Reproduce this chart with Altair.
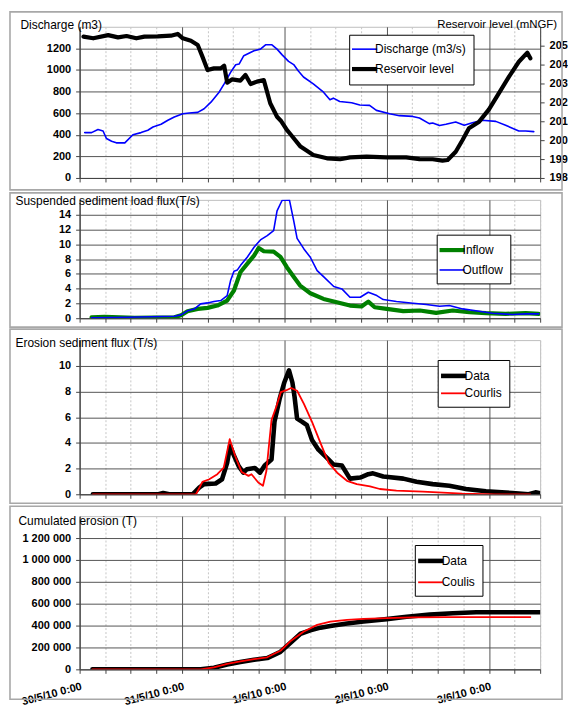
import altair as alt
import pandas as pd

FONT = "Liberation Sans"

# ---------------- x axis (hours since 30/5/10 0:00) ----------------
X_DOMAIN = [0, 108]
X_TICK_HOURS = list(range(0, 109, 6))
X_DAY_HOURS = [0, 24, 48, 72, 96]
X_DAY_LABELS = ["30/5/10 0:00", "31/5/10 0:00", "1/6/10 0:00", "2/6/10 0:00", "3/6/10 0:00"]

# ---------------- panel 1 : discharge / reservoir level ----------------
P1_SERIES = ["Discharge (m3/s)", "Reservoir level"]
DISCHARGE_H = [1.2, 2.8, 4.3, 5.5, 6.3, 7.5, 8.6, 10.6, 12.5, 14.4, 16, 17.2, 19.1, 20.7, 22.2,
               24.2, 25.7, 27.7, 29.2, 30.8, 32.7, 33.9, 35.4, 36.6, 37.4, 38.5, 40.9, 42.4, 43.6,
               45.1, 46.3, 47.5, 49, 50.2, 51.3, 52.5, 54.8, 57.2, 58.7, 59.5, 61, 63.8, 65.7, 68,
               69.6, 72.7, 75, 78.1, 79.7, 82, 82.8, 84.4, 85.9, 88.2, 90.2, 92.1, 94.4, 97.6,
               99.9, 103, 104.6, 106.5]
DISCHARGE_V = [420, 420, 448, 435, 365, 340, 325, 325, 400, 420, 442, 472, 497, 534, 564,
               595, 601, 607, 641, 702, 794, 871, 978, 1049, 1055, 1132, 1178, 1193, 1233,
               1233, 1193, 1140, 1080, 1050, 990, 935, 871, 794, 724, 739, 708, 696, 675, 672,
               626, 595, 577, 570, 555, 503, 509, 485, 497, 518, 488, 512, 534, 524,
               488, 435, 435, 429]
LEVEL_H = [0.9, 3.2, 6.7, 9, 11, 13.3, 15.2, 18.3, 21.4, 23, 24.2, 26.1, 27.7, 28.8, 30, 31.5,
           33.1, 33.9, 34.6, 35.8, 37.7, 38.9, 40.1, 41.6, 43.2, 44.7, 46.3, 47.3, 48.6, 49.5,
           51.8, 54.8, 58, 61.1, 63.4, 67.3, 72, 76.6, 79.7, 82.8, 85.1, 86.3, 88.2, 89.8, 91.3,
           93.7, 96, 98.3, 100.7, 103, 105, 105.7]
LEVEL_V = [205.48, 205.39, 205.56, 205.44, 205.51, 205.39, 205.48, 205.49, 205.53, 205.62,
           205.39, 205.26, 205.04, 204.42, 203.71, 203.8, 203.8, 203.94, 203.04, 203.22, 203.15,
           203.45, 202.97, 203.1, 203.18, 201.95, 201.24, 201.0, 200.54, 200.3, 199.66, 199.22,
           199.04, 198.99, 199.09, 199.13, 199.09, 199.09, 199.0, 198.99, 198.92, 198.95, 199.39,
           200.01, 200.63, 200.98, 201.63, 202.48, 203.36, 204.15, 204.63, 204.33]

# ---------------- panel 2 : suspended sediment load flux ----------------
P2_SERIES = ["Inflow", "Outflow"]
INFLOW_H = [2.8, 5.9, 12.9, 22.2, 23.8, 25.3, 27.7, 30, 32.3, 34.6, 36.2, 37.7, 39.3, 40.9, 42,
            43.2, 45.5, 47.1, 48.6, 50.2, 51.7, 54.1, 57.2, 60.3, 63.4, 66.1, 67.7, 69.2, 72,
            75.9, 79.8, 83.6, 87.5, 91.4, 95.3, 99.9, 104.6, 107.7]
INFLOW_V = [0.13, 0.2, 0.05, 0.13, 0.4, 0.95, 1.26, 1.4, 1.71, 2.39, 3.74, 6.21, 7.34, 8.46, 9.5,
            9.05, 9.0, 8.3, 6.9, 5.6, 4.41, 3.38, 2.61, 2.16, 1.71, 1.58, 2.25, 1.49, 1.26,
            0.95, 1.04, 0.72, 1.04, 0.81, 0.68, 0.59, 0.68, 0.59]
OUTFLOW_H = [2.8, 11.3, 22.2, 23.8, 25.3, 26.9, 28.4, 30, 31.5, 33.1, 34.6, 35.4, 36.2, 37, 37.7,
             39.3, 40.9, 42.4, 44, 45.5, 46.3, 47.5, 49.2, 50.2, 51, 52.6, 54.1, 55.7, 57.2,
             59.6, 61.5, 63.4, 65.8, 67.7, 69.7, 71.2, 74.3, 78.2, 81.3, 84.4, 86.7, 89.8,
             93.7, 96.8, 101.5, 104.6, 107.7]
OUTFLOW_V = [0.05, 0.13, 0.27, 0.45, 1.0, 1.26, 1.94, 2.07, 2.25, 2.39, 3.06, 5.09, 6.35, 6.53,
             7.11, 8.24, 9.59, 10.58, 11.17, 11.84, 14.5, 15.95, 16.0, 13.2, 10.8, 9.37, 8.24,
             6.44, 5.63, 4.28, 3.96, 2.84, 2.84, 3.51, 3.06, 2.52, 2.25, 2.03, 1.85, 1.62, 1.71,
             1.26, 0.95, 0.68, 0.5, 0.59, 0.59]

# ---------------- panel 3 : erosion sediment flux ----------------
P3_SERIES = ["Data", "Courlis"]
EROS_DATA_H = [3.1, 18.5, 19.6, 21, 26.5, 28.1, 29.2, 31.9, 33.4, 34.6, 35.3, 36.1, 37.3, 38.4,
               39.2, 41.1, 42.3, 43.4, 45, 45.7, 46.9, 48, 49.1, 49.9, 50.4, 51, 52.2, 53.3,
               54.5, 56, 58, 59.5, 61.5, 63.4, 65.8, 67.7, 68.8, 71.2, 75.9, 79, 82.8, 86.7,
               90.6, 95.3, 101.5, 105.3, 106.9, 108]
EROS_DATA_V = [0, 0, 0.1, 0, 0, 0.54, 0.79, 0.84, 1.17, 2.45, 3.78, 3.09, 2.19, 1.68, 1.94,
               2.04, 1.68, 2.24, 2.7, 5.64, 7.42, 8.7, 9.64, 8.7, 7.6, 5.89, 5.64, 5.38, 4.23,
               3.47, 2.83, 2.32, 2.24, 1.22, 1.3, 1.56, 1.63, 1.38, 1.22, 0.97, 0.79, 0.66, 0.41,
               0.23, 0.1, 0, 0.15, 0.08]
EROS_COURLIS_H = [3.1, 27.3, 28.8, 30.4, 32.3, 33.8, 35.2, 36.5, 38, 39.6, 40.3, 41.9, 43, 43.8,
                  45, 46.1, 47.2, 48.5, 49.6, 51, 52.6, 54.5, 56.5, 58.4, 60.4, 62.7, 65, 68.1,
                  70.4, 74.3, 80.5, 89.8, 97.6, 105.7]
EROS_COURLIS_V = [0, 0, 0.97, 1.17, 1.56, 2.07, 4.29, 2.96, 1.73, 1.43, 1.56, 0.92, 0.66, 1.81,
                  5.77, 6.79, 7.95, 8.1, 8.27, 8.06, 7.04, 5.64, 3.98, 2.45, 1.68, 1.05, 0.79,
                  0.61, 0.41, 0.28, 0.2, 0.05, 0, 0]

# ---------------- panel 4 : cumulated erosion ----------------
P4_SERIES = ["Data", "Coulis"]
CUM_DATA_H = [3, 28.4, 31.5, 34.6, 37.7, 40.9, 44, 45.5, 47.1, 49.4, 51.8, 54.1, 56.5, 58.8,
              62.7, 66.6, 72, 76.7, 82.1, 87.5, 93, 97.6, 108]
CUM_DATA_V = [0, 0, 15000, 45000, 67000, 88000, 103000, 130000, 160000, 240000, 325000, 356000,
              381000, 397000, 419000, 437000, 459000, 481000, 500000, 512000, 522000, 522000,
              522000]
CUM_COURLIS_H = [3, 28.4, 31.5, 34.6, 37.7, 40.9, 44, 45.5, 47.1, 49.4, 52.5, 55.7, 58.8, 62.7,
                 66.6, 72, 78.2, 86, 93.7, 105.7]
CUM_COURLIS_V = [0, 0, 18000, 50000, 72000, 93000, 110000, 140000, 170000, 256000, 344000,
                 406000, 437000, 453000, 462000, 469000, 475000, 478000, 478000, 478000]

WIDTH = 463
HEIGHTS = [152, 119, 155, 154]
FRAME_LEFT = -70
FRAME_RIGHT = 485

GRID_DARK = "#555555"
GRID_LIGHT = "#c6c6c6"
FRAME = "#a8a8a8"


def frame(y1, y2):
    return alt.Chart(pd.DataFrame({"k": [0]})).mark_rect(
        filled=False, color=FRAME, strokeWidth=1.6
    ).encode(x=alt.value(FRAME_LEFT), x2=alt.value(FRAME_RIGHT), y=alt.value(y1),
             y2=alt.value(y2))


def x_enc(show_labels):
    label_expr = "".join(
        f"datum.value === {h} ? '{l}' : " for h, l in zip(X_DAY_HOURS, X_DAY_LABELS)
    ) + "''"
    axis = alt.Axis(
        values=X_TICK_HOURS, title=None, grid=True,
        gridColor={"condition": {"test": "datum.value % 24 === 0", "value": GRID_DARK},
                   "value": GRID_LIGHT},
        gridDash={"condition": {"test": "datum.value % 24 === 0", "value": []},
                  "value": [2, 2]},
        labels=show_labels, labelExpr=label_expr, labelAngle=-15, labelAlign="right",
        labelBaseline="top", labelFont=FONT, labelFontSize=11, labelFontWeight="bold",
        labelColor="black", labelPadding=7, labelFlush=False, labelOverlap=False,
        tickSize=4, tickColor="#444", domainColor="#444",
    )
    return alt.X("h:Q", scale=alt.Scale(domain=X_DOMAIN, nice=False, zero=False), axis=axis)


def y_axis(values, title, tx, ty, orient="left", grid=True, label_expr=None, title_size=12):
    kw = dict(
        values=values, title=title, orient=orient, titleAngle=0, titleAlign="left",
        titleBaseline="middle", titleX=tx, titleY=ty, titleFont=FONT, titleFontSize=title_size,
        titleFontWeight="normal", titleColor="black", labelFont=FONT, labelFontSize=11,
        labelFontWeight="bold", labelColor="black", labelPadding=5, tickSize=4,
        tickColor="#444", domainColor="#444", grid=grid, gridColor=GRID_DARK, gridWidth=1,
        format="d",
    )
    if label_expr:
        kw["labelExpr"] = label_expr
    return alt.Axis(**kw)


def legend(x, y, row_pad):
    return alt.Legend(
        title=None, orient="none", legendX=x, legendY=y, direction="vertical",
        fillColor="white", strokeColor="black", padding=7, symbolType="M-2,0H2",
        symbolSize=160, labelFont=FONT, labelFontSize=12, labelColor="black",
        labelOffset=2, rowPadding=row_pad,
    )


def line(df, domain, colors, widths, y, leg, show_x_labels=False):
    return alt.Chart(df).mark_line(clip=True, strokeJoin="round", strokeCap="round").encode(
        x=x_enc(show_x_labels),
        y=y,
        color=alt.Color("series:N", scale=alt.Scale(domain=domain, range=colors), legend=leg),
        strokeWidth=alt.StrokeWidth("series:N", scale=alt.Scale(domain=domain, range=widths),
                                    legend=leg),
    )


def series_df(h, v, name):
    return pd.DataFrame({"h": h, "v": v, "series": name})


# ---------- panel 1 ----------
leg1 = legend(271, 8, 5)
y_dis = alt.Y("v:Q", scale=alt.Scale(domain=[0, 1400], nice=False),
              axis=y_axis(list(range(0, 1201, 200)), "Discharge (m3)", -60, -2))
y_lev = alt.Y("v:Q", scale=alt.Scale(domain=[198, 206], nice=False, zero=False),
              axis=y_axis(list(range(198, 206)), "Reservoir level  (mNGF)", -104, -2,
                          orient="right", grid=False, title_size=11.5))
c1 = ["#0000ff", "#000000"]
w1 = [1.6, 4.2]
p1 = alt.layer(
    frame(-15, HEIGHTS[0] + 12),
    line(series_df(DISCHARGE_H, DISCHARGE_V, P1_SERIES[0]), P1_SERIES, c1, w1, y_dis, leg1),
    line(series_df(LEVEL_H, LEVEL_V, P1_SERIES[1]), P1_SERIES, c1, w1, y_lev, leg1),
).resolve_scale(y="independent").properties(width=WIDTH, height=HEIGHTS[0])

# ---------- panel 2 ----------
leg2 = legend(359, 35, 4)
y2 = alt.Y("v:Q", scale=alt.Scale(domain=[0, 16], nice=False),
           axis=y_axis(list(range(0, 15, 2)), "Suspended sediment load flux(T/s)", -65, 1))
c2 = ["#008000", "#0000ff"]
w2 = [4.2, 1.6]
p2 = alt.layer(
    frame(-7, HEIGHTS[1] + 9),
    line(series_df(INFLOW_H, INFLOW_V, P2_SERIES[0]), P2_SERIES, c2, w2, y2, leg2),
    line(series_df(OUTFLOW_H, OUTFLOW_V, P2_SERIES[1]), P2_SERIES, c2, w2, y2, leg2),
).properties(width=WIDTH, height=HEIGHTS[1])

# ---------- panel 3 ----------
leg3 = legend(360, 20, 0)
y3 = alt.Y("v:Q", scale=alt.Scale(domain=[0, 12], nice=False),
           axis=y_axis(list(range(0, 11, 2)), "Erosion sediment flux (T/s)", -65, 2))
c3 = ["#000000", "#ff0000"]
w3 = [4.6, 1.8]
p3 = alt.layer(
    frame(-11, HEIGHTS[2] + 9),
    line(series_df(EROS_DATA_H, EROS_DATA_V, P3_SERIES[0]), P3_SERIES, c3, w3, y3, leg3),
    line(series_df(EROS_COURLIS_H, EROS_COURLIS_V, P3_SERIES[1]), P3_SERIES, c3, w3, y3, leg3),
).properties(width=WIDTH, height=HEIGHTS[2])

# ---------- panel 4 ----------
leg4 = legend(337, 29, 4)
y4 = alt.Y("v:Q", scale=alt.Scale(domain=[0, 1400000], nice=False),
           axis=y_axis(list(range(0, 1200001, 200000)), "Cumulated erosion (T)", -62, 4,
                       label_expr="replace(format(datum.value, ','), regexp(',', 'g'), ' ')"))
c4 = ["#000000", "#ff0000"]
w4 = [4.6, 1.8]
p4 = alt.layer(
    frame(-10, HEIGHTS[3] + 30),
    line(series_df(CUM_DATA_H, CUM_DATA_V, P4_SERIES[0]), P4_SERIES, c4, w4, y4, leg4, True),
    line(series_df(CUM_COURLIS_H, CUM_COURLIS_V, P4_SERIES[1]), P4_SERIES, c4, w4, y4, leg4, True),
).properties(width=WIDTH, height=HEIGHTS[3])

chart = alt.vconcat(p1, p2, p3, p4, spacing=22, bounds="flush").resolve_scale(
    color="independent", strokeWidth="independent"
).properties(
    padding={"left": 0, "top": 0, "right": 0, "bottom": 0}, background="white"
).configure(font=FONT).configure_view(stroke="#bdbdbd")

chart.save("out.html", embed_options={"renderer": "svg", "actions": False})
